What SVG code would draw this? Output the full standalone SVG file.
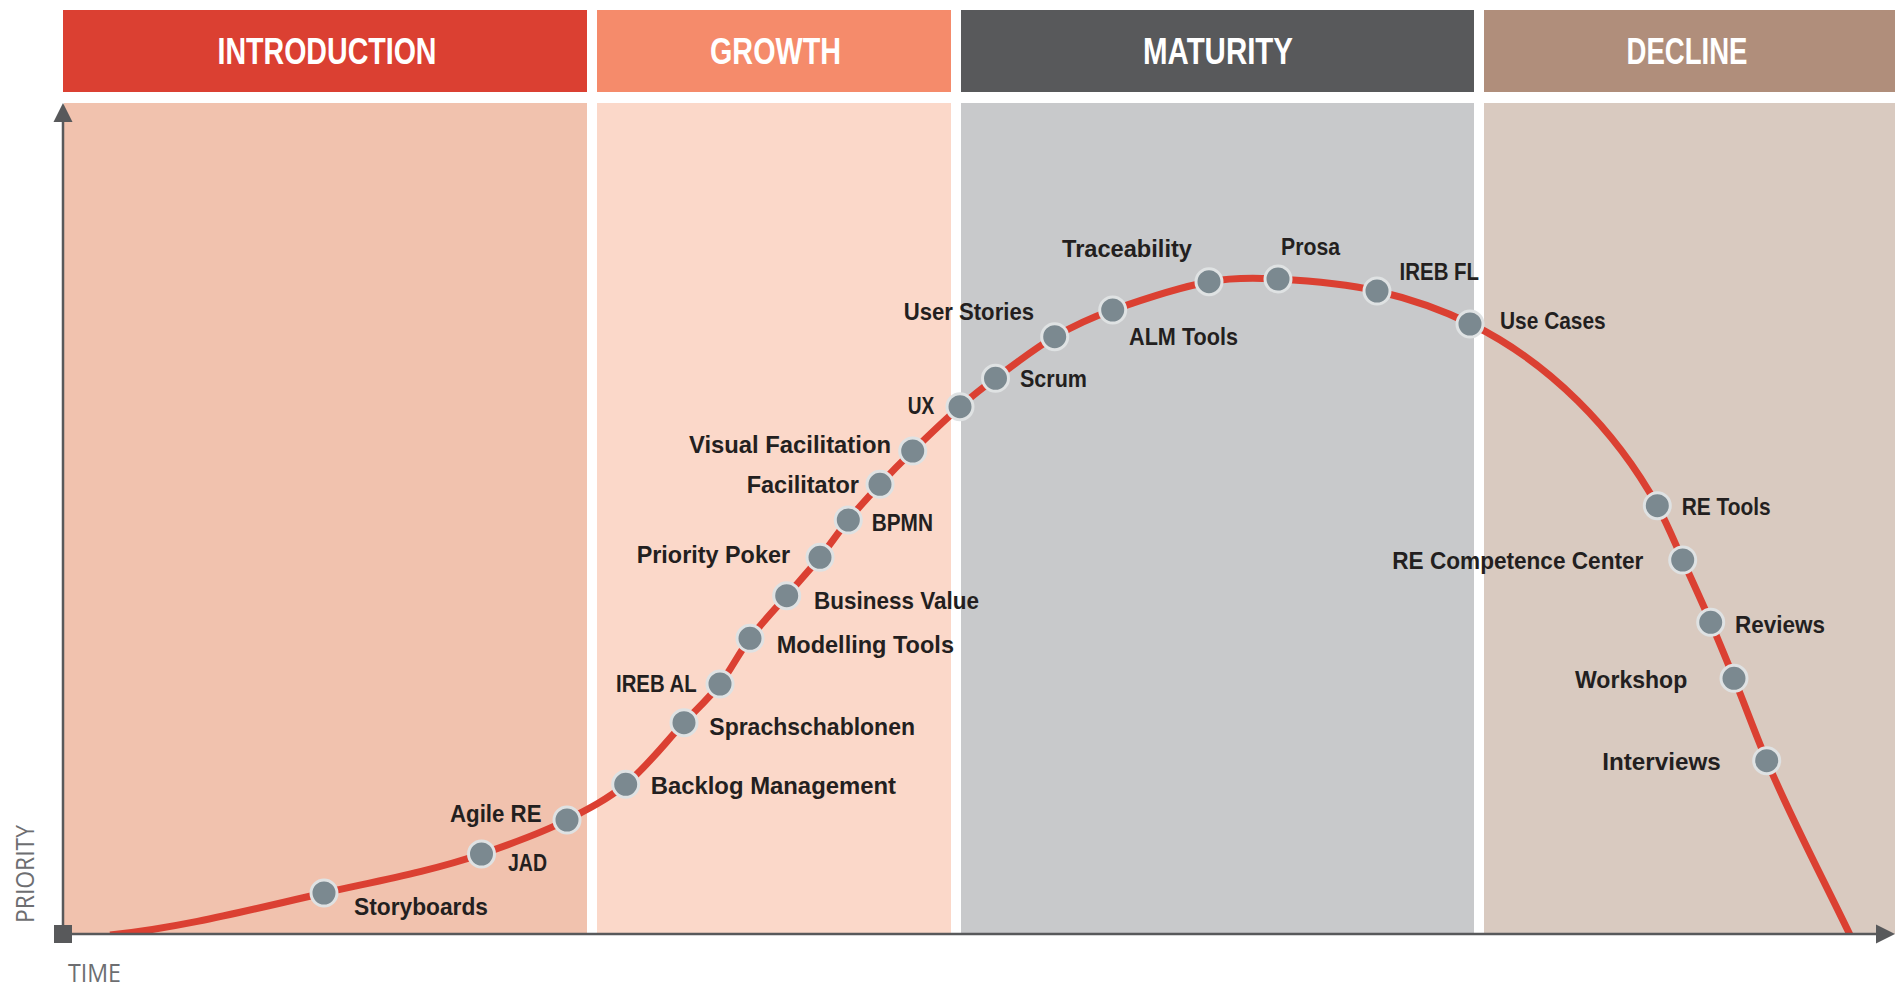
<svg xmlns="http://www.w3.org/2000/svg" width="1897" height="987" viewBox="0 0 1897 987">
<style>
.hdr{font-family:"Liberation Sans",Arial,sans-serif;font-weight:bold;font-size:36px;fill:#ffffff;text-anchor:middle}
.lbl{font-family:"Liberation Sans",Arial,sans-serif;font-weight:bold;font-size:24px;fill:#231f20}
.end{text-anchor:end}
.ax{font-family:"Open Sans","Liberation Sans",Arial,sans-serif;font-size:25px;fill:#6d6e71}
.dot{fill:#7b8990;stroke:#dfe2e3;stroke-width:3}
.curve{fill:none;stroke:#db4032;stroke-width:7}
.axis{stroke:#58595b;stroke-width:2.5;fill:none}
</style>
<defs>
<clipPath id="plot"><rect x="0" y="0" width="1897" height="933"/></clipPath>
</defs>
<rect width="1897" height="987" fill="#ffffff"/>
<g id="phase-introduction">
<rect x="63" y="10" width="524" height="82" fill="#db4032"/>
<rect x="64" y="103" width="523" height="831" fill="#f1c2ae"/>
<text class="hdr" x="327" y="64" textLength="219" lengthAdjust="spacingAndGlyphs">INTRODUCTION</text>
</g>
<g id="phase-growth">
<rect x="597" y="10" width="354" height="82" fill="#f58b6b"/>
<rect x="597" y="103" width="354" height="831" fill="#fbd8c9"/>
<text class="hdr" x="775.5" y="64" textLength="131" lengthAdjust="spacingAndGlyphs">GROWTH</text>
</g>
<g id="phase-maturity">
<rect x="961" y="10" width="513" height="82" fill="#58595b"/>
<rect x="961" y="103" width="513" height="831" fill="#c8c9cb"/>
<text class="hdr" x="1218" y="64" textLength="150" lengthAdjust="spacingAndGlyphs">MATURITY</text>
</g>
<g id="phase-decline">
<rect x="1484" y="10" width="411" height="82" fill="#b08e7b"/>
<rect x="1484" y="103" width="411" height="831" fill="#d9cac0"/>
<text class="hdr" x="1687" y="64" textLength="121" lengthAdjust="spacingAndGlyphs">DECLINE</text>
</g>
<g id="connectors">
<path class="curve" clip-path="url(#plot)" d="M110,935 C182.3,927.7 253.1,909 324,893 C376.8,881.1 430.3,871.5 481.5,854 C510.5,844.1 539.7,834 567,820 C587.4,809.5 608.1,798.9 625.7,784.3 C647.4,766.2 664.6,743.3 684,722.7 C696.1,709.9 709.2,697.9 720,684 C731.2,669.6 739,652.8 750,638.3 C761.3,623.4 774.5,609.8 786.7,595.7 C797.8,582.9 809.3,570.4 820,557.3 C829.8,545.2 838.4,532.1 848.3,520 C858.4,507.7 869.2,495.9 880,484.3 C890.6,472.9 901.5,461.8 912.7,451 C928.2,436 943.8,421 960,406.7 C971.4,396.7 983.3,387.3 995.5,378.3 C1014.9,364 1033.9,348.8 1054.7,336.7 C1073.1,326 1092.7,317.1 1112.7,310 C1144.3,298.8 1176.1,287.9 1209,281.7 C1231.6,277.5 1255,277.7 1278,279 C1311.2,280.8 1344.7,283.5 1377,291 C1409.3,298.5 1441.2,309.4 1471,324 C1548.8,362.2 1615.4,429.8 1657.3,505.7 C1666.95,523.2 1674.4,541.8 1682.7,560 C1692.2,580.7 1701.7,601.4 1710.7,622.3 C1718.7,640.8 1726.4,659.6 1734,678.3 C1745.2,705.7 1755.2,733.5 1766.7,760.7 C1791.8,819.8 1822.1,876.9 1851,937"/>
<line class="axis" x1="63" y1="934" x2="1878" y2="934"/>
<line class="axis" x1="63" y1="934" x2="63" y2="120"/>
<polygon points="1876,924.5 1895,934 1876,943.5" fill="#58595b"/>
<polygon points="53.5,122 63,103 72.5,122" fill="#58595b"/>
<rect x="54" y="925" width="18" height="18" fill="#58595b"/>
</g>
<g id="axis-labels">
<text class="ax" transform="translate(34,923) rotate(-90)" textLength="98" lengthAdjust="spacingAndGlyphs">PRIORITY</text>
<text class="ax" x="68" y="982" textLength="53" lengthAdjust="spacingAndGlyphs">TIME</text>
</g>
<g id="n-storyboards"><circle class="dot" cx="324" cy="893" r="13"/><text class="lbl" x="354" y="915" textLength="134" lengthAdjust="spacingAndGlyphs">Storyboards</text></g>
<g id="n-jad"><circle class="dot" cx="481.5" cy="854" r="13"/><text class="lbl" x="508" y="871" textLength="39" lengthAdjust="spacingAndGlyphs">JAD</text></g>
<g id="n-agile-re"><circle class="dot" cx="567" cy="820" r="13"/><text class="lbl end" x="541.5" y="822" textLength="91.5" lengthAdjust="spacingAndGlyphs">Agile RE</text></g>
<g id="n-backlog"><circle class="dot" cx="625.7" cy="784.3" r="13"/><text class="lbl" x="650.7" y="794" textLength="245.3" lengthAdjust="spacingAndGlyphs">Backlog Management</text></g>
<g id="n-sprachschablonen"><circle class="dot" cx="684" cy="722.7" r="13"/><text class="lbl" x="709.3" y="735" textLength="205.7" lengthAdjust="spacingAndGlyphs">Sprachschablonen</text></g>
<g id="n-ireb-al"><circle class="dot" cx="720" cy="684" r="13"/><text class="lbl end" x="696.7" y="691.7" textLength="80.7" lengthAdjust="spacingAndGlyphs">IREB AL</text></g>
<g id="n-modelling-tools"><circle class="dot" cx="750" cy="638.3" r="13"/><text class="lbl" x="776.7" y="653.3" textLength="177.3" lengthAdjust="spacingAndGlyphs">Modelling Tools</text></g>
<g id="n-business-value"><circle class="dot" cx="786.7" cy="595.7" r="13"/><text class="lbl" x="814" y="608.7" textLength="165" lengthAdjust="spacingAndGlyphs">Business Value</text></g>
<g id="n-priority-poker"><circle class="dot" cx="820" cy="557.3" r="13"/><text class="lbl end" x="790" y="562.7" textLength="153.3" lengthAdjust="spacingAndGlyphs">Priority Poker</text></g>
<g id="n-bpmn"><circle class="dot" cx="848.3" cy="520" r="13"/><text class="lbl" x="871.7" y="530.7" textLength="61.3" lengthAdjust="spacingAndGlyphs">BPMN</text></g>
<g id="n-facilitator"><circle class="dot" cx="880" cy="484.3" r="13"/><text class="lbl end" x="859" y="492.7" textLength="112.3" lengthAdjust="spacingAndGlyphs">Facilitator</text></g>
<g id="n-visual-facilitation"><circle class="dot" cx="912.7" cy="451" r="13"/><text class="lbl end" x="891" y="453" textLength="202" lengthAdjust="spacingAndGlyphs">Visual Facilitation</text></g>
<g id="n-ux"><circle class="dot" cx="960" cy="406.7" r="13"/><text class="lbl end" x="934.3" y="414.3" textLength="26.5" lengthAdjust="spacingAndGlyphs">UX</text></g>
<g id="n-scrum"><circle class="dot" cx="995.5" cy="378.3" r="13"/><text class="lbl" x="1020" y="386.7" textLength="67" lengthAdjust="spacingAndGlyphs">Scrum</text></g>
<g id="n-user-stories"><circle class="dot" cx="1054.7" cy="336.7" r="13"/><text class="lbl end" x="1034" y="320" textLength="130.3" lengthAdjust="spacingAndGlyphs">User Stories</text></g>
<g id="n-alm-tools"><circle class="dot" cx="1112.7" cy="310" r="13"/><text class="lbl" x="1129" y="345" textLength="109" lengthAdjust="spacingAndGlyphs">ALM Tools</text></g>
<g id="n-traceability"><circle class="dot" cx="1209" cy="281.7" r="13"/><text class="lbl end" x="1192" y="257.3" textLength="130" lengthAdjust="spacingAndGlyphs">Traceability</text></g>
<g id="n-prosa"><circle class="dot" cx="1278" cy="279" r="13"/><text class="lbl" x="1281" y="255" textLength="59" lengthAdjust="spacingAndGlyphs">Prosa</text></g>
<g id="n-ireb-fl"><circle class="dot" cx="1377" cy="291" r="13"/><text class="lbl" x="1399.6" y="280" textLength="79.4" lengthAdjust="spacingAndGlyphs">IREB FL</text></g>
<g id="n-use-cases"><circle class="dot" cx="1470" cy="324" r="13"/><text class="lbl" x="1500" y="329.3" textLength="105.7" lengthAdjust="spacingAndGlyphs">Use Cases</text></g>
<g id="n-re-tools"><circle class="dot" cx="1657.3" cy="505.7" r="13"/><text class="lbl" x="1681.7" y="515" textLength="89" lengthAdjust="spacingAndGlyphs">RE Tools</text></g>
<g id="n-re-competence-center"><circle class="dot" cx="1682.7" cy="560" r="13"/><text class="lbl end" x="1643.3" y="569" textLength="251" lengthAdjust="spacingAndGlyphs">RE Competence Center</text></g>
<g id="n-reviews"><circle class="dot" cx="1710.7" cy="622.3" r="13"/><text class="lbl" x="1735" y="633.3" textLength="90" lengthAdjust="spacingAndGlyphs">Reviews</text></g>
<g id="n-workshop"><circle class="dot" cx="1734" cy="678.3" r="13"/><text class="lbl end" x="1687.3" y="688.3" textLength="112.3" lengthAdjust="spacingAndGlyphs">Workshop</text></g>
<g id="n-interviews"><circle class="dot" cx="1766.7" cy="760.7" r="13"/><text class="lbl end" x="1720.7" y="770" textLength="118.4" lengthAdjust="spacingAndGlyphs">Interviews</text></g>
</svg>
